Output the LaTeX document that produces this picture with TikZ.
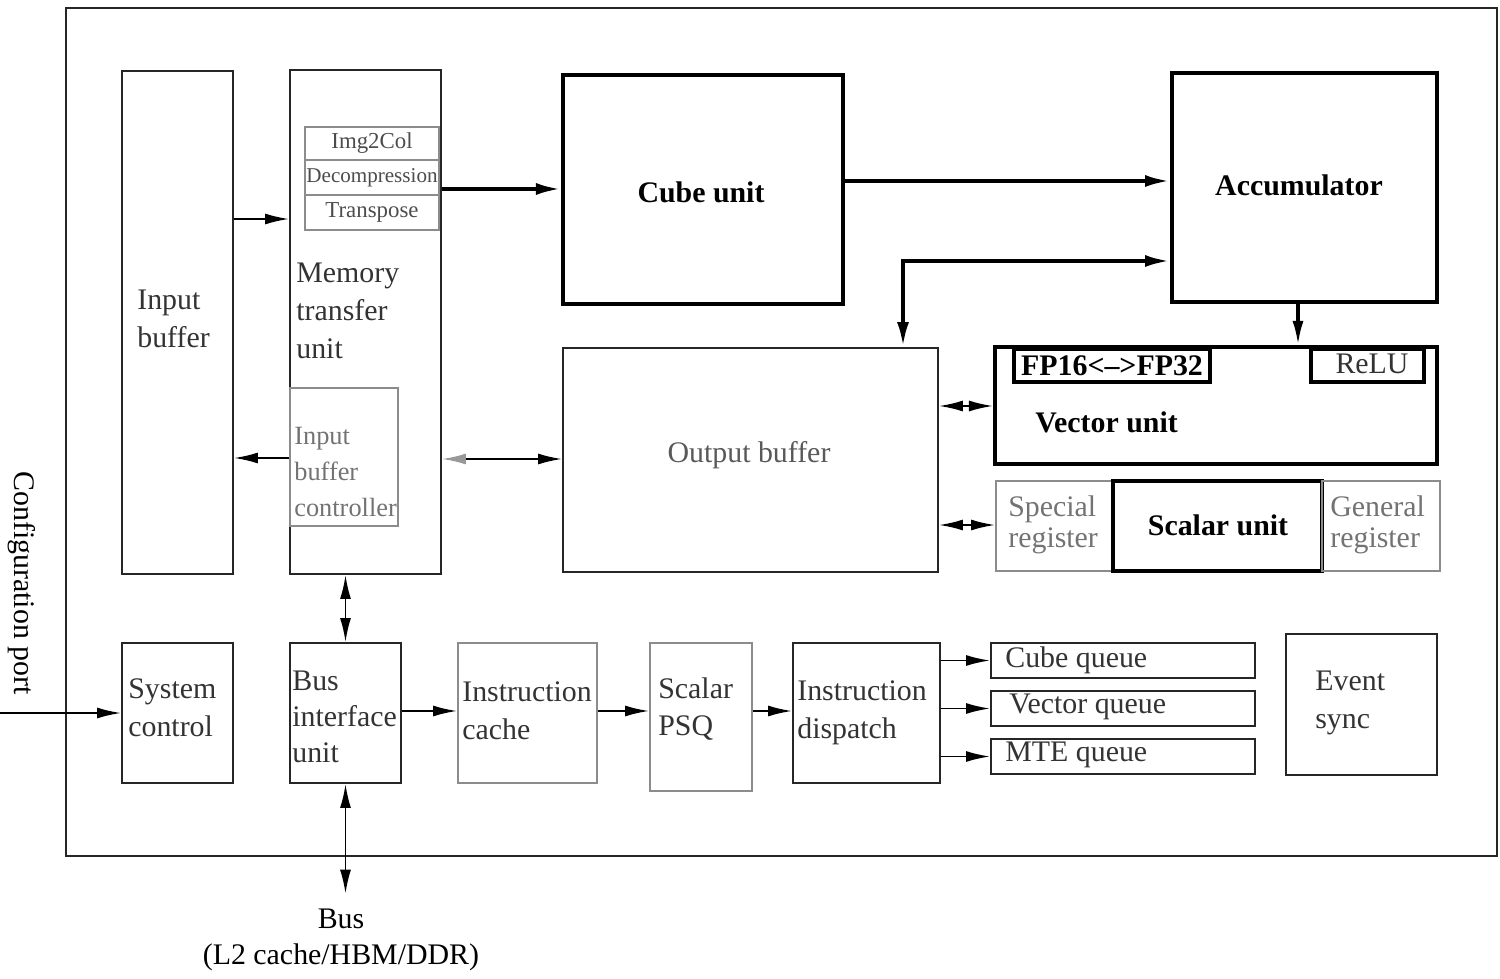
\documentclass[tikz,border=0pt]{standalone}
\usepackage{fontspec}
\setmainfont{Liberation Serif}
\usetikzlibrary{arrows.meta,fit}
\begin{document}
\begin{tikzpicture}[x=0.02cm,y=-0.02cm,
  blk/.style={draw=black!85, line width=1.1pt, inner sep=0pt},
  thk/.style={draw=black, line width=2.3pt, inner sep=0pt},
  gblk/.style={draw=black!45, line width=1.1pt, inner sep=0pt},
  txt/.style={font=\fontsize{17}{21.5}\selectfont, text=black!80, inner sep=0pt, align=left},
  gtxt/.style={txt, text=black!55},
  btxt/.style={font=\fontsize{17}{21}\selectfont\bfseries, text=black, inner sep=0pt},
  stxt/.style={font=\fontsize{13}{15}\selectfont, text=black!70, inner sep=0pt},
  tip/.style={},
  arr/.style={line width=1.1pt, -{Latex[length=0.48cm,width=0.22cm]}},
  darr/.style={line width=1.1pt, {Latex[length=0.48cm,width=0.22cm]}-{Latex[length=0.48cm,width=0.22cm]}},
  tarr/.style={line width=2.2pt, -{Latex[length=0.5cm,width=0.24cm]}},
  tdarr/.style={line width=2.2pt, {Latex[length=0.5cm,width=0.24cm]}-{Latex[length=0.5cm,width=0.24cm]}}
]
\useasboundingbox (0,0) rectangle (1500,979);
% outer frame
\node[blk, fit={(66,8) (1497,856)}] (outer) {};

% top-left column
\node[blk, fit={(122,71) (233,574)}] (ib) {};
\node[txt, anchor=west] (ibt) at (137,319) {Input\\buffer};
\node[blk, fit={(290,70) (441,574)}] (mtu) {};
\node[txt, anchor=west] (mtut) at (296,311) {Memory\\transfer\\unit};
\node[gblk, fit={(305,127) (439,160)}] (i2c) {};
\node[gblk, fit={(305,160) (439,195)}] (dec) {};
\node[gblk, fit={(305,195) (439,230)}] (trp) {};
\node[stxt] (i2ct) at (i2c.center) {Img2Col};
\node[stxt, font=\fontsize{12}{14}\selectfont] (dect) at (dec.center) {Decompression};
\node[stxt] (trpt) at (trp.center) {Transpose};
\node[gblk, fit={(290,388) (398,526)}] (ibc) {};
\node[gtxt, anchor=west, font=\fontsize{15}{20.5}\selectfont] (ibct) at (294,472) {Input\\buffer\\controller};

% cube, accumulator
\node[thk, fit={(563,75) (843,304)}] (cube) {};
\node[btxt] (cubet) at (701,192) {Cube unit};
\node[thk, fit={(1172,73) (1437,302)}] (acc) {};
\node[btxt] (acct) at (1299,185) {Accumulator};

% output buffer
\node[blk, fit={(563,348) (938,572)}] (ob) {};
\node[txt, text=black!65] (obt) at (749,455) {Output buffer};

% vector unit
\node[thk, fit={(995,347) (1437,464)}] (vu) {};
\node[draw, line width=1.8pt, inner sep=0pt, fit={(1014,349) (1210,382)}] (fp) {};
\node[btxt] (fpt) at (fp.center) {FP16<–>FP32};
\node[draw, line width=1.8pt, inner sep=0pt, fit={(1311,349) (1424,382)}] (relu) {};
\node[txt] (relut) at (1372,364) {ReLU};
\node[btxt, anchor=west] (vut) at (1035,422) {Vector unit};

% scalar row
\node[gblk, fit={(996,481) (1113,571)}] (spr) {};
\node[gtxt, anchor=west, font=\fontsize{17}{17.5}\selectfont] (sprt) at (1008,525) {Special\\register};
\node[thk, fit={(1113,481) (1322,571)}] (su) {};
\node[btxt] (sut) at (1218,525) {Scalar unit};
\node[gblk, fit={(1322,481) (1440,571)}] (gr) {};
\node[gtxt, anchor=west, font=\fontsize{17}{17.5}\selectfont] (grt) at (1330,525) {General\\register};

% bottom row
\node[blk, fit={(122,643) (233,783)}] (sc) {};
\node[txt, anchor=west] (sct) at (128,708) {System\\control};
\node[blk, fit={(290,643) (401,783)}] (biu) {};
\node[txt, anchor=west, font=\fontsize{17}{20.5}\selectfont] (biut) at (292,717) {Bus\\interface\\unit};
\node[gblk, fit={(458,643) (597,783)}] (ic) {};
\node[txt, anchor=west] (ict) at (462,711) {Instruction\\cache};
\node[gblk, fit={(650,643) (752,791)}] (psq) {};
\node[txt, anchor=west] (psqt) at (658,709) {Scalar\\PSQ};
\node[blk, fit={(793,643) (940,783)}] (id) {};
\node[txt, anchor=west] (idt) at (797,713) {Instruction\\dispatch};
\node[blk, fit={(991,643) (1255,678)}] (cq) {};
\node[txt, anchor=west] (cqt) at (1005,660) {Cube queue};
\node[blk, fit={(991,691) (1255,726)}] (vq) {};
\node[txt, anchor=west] (vqt) at (1009,707) {Vector queue};
\node[blk, fit={(991,739) (1255,774)}] (mq) {};
\node[txt, anchor=west] (mqt) at (1005,755) {MTE queue};
\node[blk, fit={(1286,634) (1437,775)}] (es) {};
\node[txt, anchor=west] (est) at (1315,703) {Event\\sync};

% external labels
\node[font=\fontsize{17}{21}\selectfont, rotate=-90, inner sep=0pt] (cpt) at (22,583) {Configuration port};
\coordinate (cp) at (0,713);
\node[font=\fontsize{17}{20.5}\selectfont, align=center, inner sep=0pt] (busl) at (341,940) {Bus\\(L2 cache/HBM/DDR)};

% connectors
\draw[arr] (ib.east |- 0,219) -- (mtu.west |- 0,219);
\draw[arr] (mtu.west |- 0,458) -- (ib.east |- 0,458);
\draw[tarr] (mtu.east |- 0,189) -- (cube.west |- 0,189);
\draw[line width=1.1pt, {Latex[length=0.48cm,width=0.22cm,color=black!40]}-{Latex[length=0.48cm,width=0.22cm]}] (mtu.east |- 0,459) -- (ob.west |- 0,459);
\draw[tarr] (cube.east |- 0,181) -- (acc.west |- 0,181);
\draw[tdarr] (ob.north -| 903,0) |- (acc.west |- 0,261);
\draw[line width=1.8pt, -{Latex[length=0.48cm,width=0.22cm]}] (1298,0 |- acc.south) -- (1298,0 |- vu.north);
\draw[darr] (ob.east |- 0,406) -- (vu.west |- 0,406);
\draw[darr] (ob.east |- 0,525) -- (spr.west |- 0,525);
\draw[darr] (biu.north |- mtu.south) -- (biu.north);
\draw[darr, shorten >=0.3cm] (biu.south) -- (biu.south |- busl.north);
\draw[arr] (cp) -- (sc.west |- cp);
\draw[arr] (biu.east |- 0,711) -- (ic.west |- 0,711);
\draw[arr] (ic.east |- 0,711) -- (psq.west |- 0,711);
\draw[arr] (psq.east |- 0,711) -- (id.west |- 0,711);
\draw[arr] (id.east |- cq.west) -- (cq.west);
\draw[arr] (id.east |- vq.west) -- (vq.west);
\draw[arr] (id.east |- mq.west) -- (mq.west);
\end{tikzpicture}
\end{document}
